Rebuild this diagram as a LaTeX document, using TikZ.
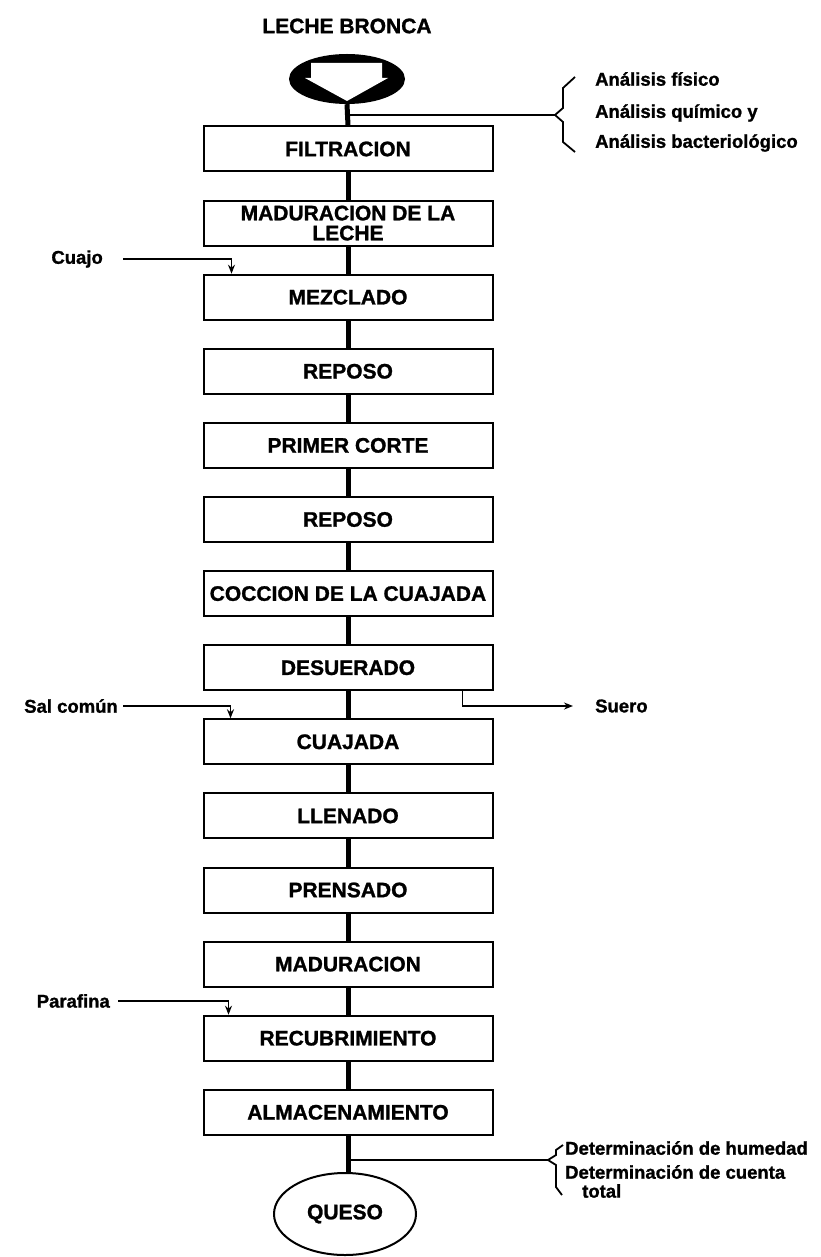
\documentclass[tikz,border=0pt]{standalone}
\usepackage{fontspec}
\setmainfont{Liberation Sans}[BoldFeatures={FakeBold=1.2}]
\usetikzlibrary{shapes.geometric}
\usetikzlibrary{arrows.meta}

\tikzset{
  box/.style={draw, line width=2pt, minimum width=289pt, minimum height=45pt, inner sep=1pt, align=center, font=\bfseries\fontsize{21}{20}\selectfont},
  link/.style={line width=5pt},
  side/.style={font=\bfseries\fontsize{18.5}{20}\selectfont, inner sep=0pt},
  feed/.style={line width=1.8pt, -{Stealth[length=9pt,width=7pt]}},
  note/.style={line width=1.8pt},
}

\begin{document}
\begin{tikzpicture}[x=1pt,y=-1pt]
    \useasboundingbox (0,0) rectangle (820,1257);
    % raw milk
    \node[font=\bfseries\fontsize{21}{20}\selectfont] (leche) at (347,26) {LECHE BRONCA};
    \node[ellipse, fill=black, minimum width=116pt, minimum height=50pt, inner sep=0pt] (src) at (347,79) {};
    \fill[white] (311,63) -- (382,63) -- (382,78) -- (388,78) -- (347,101) -- (305,78) -- (311,78) -- cycle;
    % process steps
    \foreach \name/\txt [count=\i from 0] in {filt/FILTRACION, madl/MADURACION DE LA\\LECHE, mezc/MEZCLADO, repa/REPOSO, corte/PRIMER CORTE, repb/REPOSO, cocc/COCCION DE LA CUAJADA, desu/DESUERADO, cuaj/CUAJADA, llen/LLENADO, pren/PRENSADO, madq/MADURACION, recu/RECUBRIMIENTO, alma/ALMACENAMIENTO}
        \node[box] (\name) at (348,{149+74.1*\i}) {\txt};
    \node[ellipse, draw, line width=2pt, minimum width=142pt, minimum height=82pt, font=\bfseries\fontsize{21}{20}\selectfont] (queso) at (345,1214) {QUESO};
    % main line
    \draw[link] (src.south) -- (filt.north);
    \foreach \a/\b in {filt/madl, madl/mezc, mezc/repa, repa/corte, corte/repb, repb/cocc, cocc/desu, desu/cuaj, cuaj/llen, llen/pren, pren/madq, madq/recu, recu/alma}
        \draw[link] (\a.south) -- (\b.north);
    \draw[link] (alma.south) -- (alma.south |- queso.north);
    % inputs and outputs
    \node[side, anchor=east] (cuajo) at (103,259) {Cuajo};
    \draw[feed] ([xshift=20pt]cuajo.east) -| ([xshift=29pt]mezc.north west);
    \node[side, anchor=east] (sal) at (118,706) {Sal común};
    \draw[feed] ([xshift=5pt]sal.east) -| ([xshift=28pt]cuaj.north west);
    \node[side, anchor=west] (suero) at (595,706) {Suero};
    \draw[feed] ([xshift=-31pt]desu.south east) |- ([xshift=-22pt]suero.west);
    \node[side, anchor=east] (paraf) at (110,1001) {Parafina};
    \draw[feed] ([xshift=8pt]paraf.east) -| ([xshift=26pt]recu.north west);
    % quality checks, milk
    \coordinate (chkA) at (348,115);
    \coordinate (braA) at (555,115);
    \draw[note] (chkA) -- (braA);
    \draw[note] (575,77) -- (563,88) -- (563,108) -- (braA) -- (563,122) -- (563,142) -- (575,152);
    \node[side, anchor=west] (anA) at (595,79) {Análisis físico};
    \node[side, anchor=west] (anB) at (595,113) {Análisis químico y};
    \node[side, anchor=west] (anC) at (595,143) {Análisis bacteriológico};
    % quality checks, cheese
    \coordinate (chkB) at (348,1160);
    \coordinate (braB) at (548,1160);
    \draw[note] (chkB) -- (braB);
    \draw[note] (563,1145) -- (556,1150) -- (556,1155) -- (braB) -- (556,1165) -- (556,1187) -- (562,1195);
    \node[side, anchor=west] (detA) at (565,1148) {Determinación de humedad};
    \node[side, anchor=west] (detB) at (565,1172) {Determinación de cuenta};
    \node[side, anchor=west] (detC) at (582,1191) {total};
\end{tikzpicture}
\end{document}
